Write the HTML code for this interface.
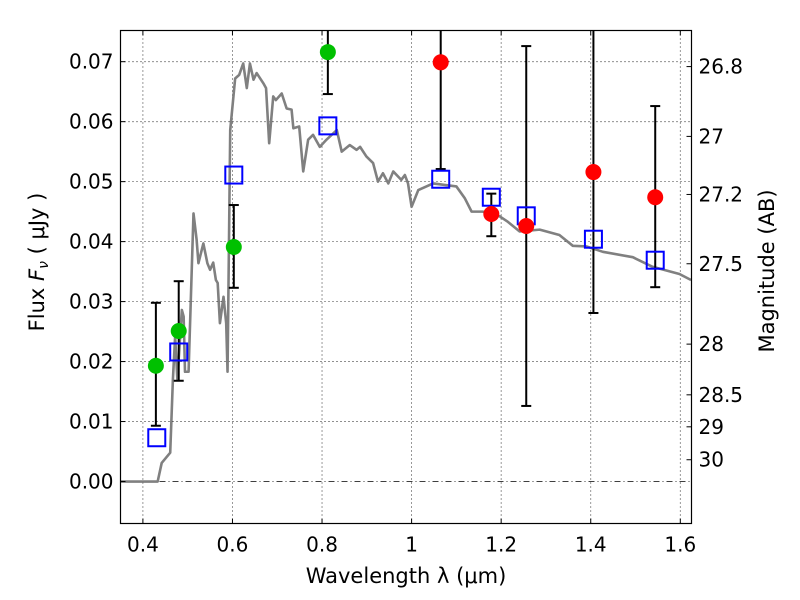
<!DOCTYPE html>
<html><head><meta charset="utf-8"><style>
body{margin:0;background:#fff}
svg{display:block;font-family:"DejaVu Sans","Liberation Sans",sans-serif}
</style></head><body>
<svg id="chart" width="800" height="600" viewBox="0 0 800 600" xmlns="http://www.w3.org/2000/svg">
<rect x="0" y="0" width="800" height="600" fill="#fff"/>
<g id="grid"></g>
<g id="spec"></g>
<g id="marks"></g>
<rect x="120.5" y="30.5" width="571" height="493" fill="none" stroke="#000" stroke-width="1.2"/>
<g id="axes" font-size="20"></g>
<text x="406" y="583" font-size="21" text-anchor="middle">Wavelength  λ (μm)</text>
<text transform="translate(44,262) rotate(-90)" font-size="21" text-anchor="middle">Flux  <tspan font-style="italic">F</tspan><tspan font-size="14" dy="4" font-style="italic">ν</tspan><tspan dy="-4">  ( μJy )</tspan></text>
<text transform="translate(774,271) rotate(-90)" font-size="21" text-anchor="middle">Magnitude (AB)</text>
</svg>
<script>
const xTicks=[0.4,0.6,0.8,1.0,1.2,1.4,1.6];
const xTickLabels=["0.4","0.6","0.8","1","1.2","1.4","1.6"];
const yTicks=[0,0.01,0.02,0.03,0.04,0.05,0.06,0.07];
const yTickLabels=["0.00","0.01","0.02","0.03","0.04","0.05","0.06","0.07"];
const magTicks=[26.8,27,27.2,27.5,28,28.5,29,30];
const magTickLabels=["26.8","27","27.2","27.5","28","28.5","29","30"];
const specWave=[0.35,0.433,0.442,0.461,0.467,0.472,0.477,0.487,0.491,0.494,0.502,0.513,0.520,0.524,0.535,0.544,0.550,0.557,0.563,0.567,0.572,0.580,0.586,0.589,0.595,0.606,0.615,0.624,0.632,0.639,0.647,0.654,0.669,0.675,0.682,0.691,0.697,0.710,0.721,0.732,0.736,0.749,0.758,0.769,0.780,0.795,0.810,0.833,0.844,0.862,0.877,0.885,0.899,0.914,0.925,0.936,0.948,0.959,0.977,0.985,0.992,1.000,1.015,1.048,1.100,1.119,1.134,1.159,1.197,1.215,1.241,1.286,1.330,1.360,1.390,1.427,1.494,1.538,1.598,1.624];
const specFlux=[0,0,0.0031,0.0048,0.0170,0.0242,0.0170,0.0286,0.0275,0.0183,0.0183,0.0447,0.0403,0.0364,0.0397,0.0364,0.0353,0.0365,0.0336,0.0331,0.0264,0.0308,0.0264,0.0183,0.0586,0.0672,0.0678,0.0697,0.0656,0.0697,0.0670,0.0681,0.0664,0.0656,0.0564,0.0642,0.0636,0.0647,0.0622,0.0620,0.0589,0.0592,0.0517,0.0570,0.0578,0.0558,0.0570,0.0586,0.0550,0.0561,0.0553,0.0558,0.0542,0.0531,0.0500,0.0514,0.0497,0.0517,0.0503,0.0511,0.0497,0.0458,0.0486,0.0497,0.0492,0.0472,0.0450,0.0450,0.0442,0.0433,0.0417,0.0420,0.0411,0.0393,0.0392,0.0383,0.0374,0.0358,0.0346,0.0336,0.0331];
const greenWave=[0.429,0.480,0.603,0.813];
const greenFlux=[0.0193,0.0251,0.0391,0.0716];
const greenLo=[0.0093,0.0168,0.0323,0.0646];
const greenHi=[0.0298,0.0334,0.0461,0.090];
const redWave=[1.065,1.178,1.256,1.406,1.544];
const redFlux=[0.0699,0.0446,0.0426,0.0516,0.0474];
const redLo=[0.0521,0.0409,0.0126,0.0281,0.0324];
const redHi=[0.090,0.0480,0.0726,0.090,0.0626];
const modelWave=[0.431,0.480,0.603,0.813,1.065,1.178,1.256,1.406,1.544];
const modelFlux=[0.0073,0.0216,0.0511,0.0593,0.0504,0.0474,0.0443,0.0404,0.0369];

const NS="http://www.w3.org/2000/svg";
const L=120.5,R=691.5,T=30.5,B=523.5;
const xmin=0.35,xmax=1.625,ymin=-0.007,ymax=0.0752;
function sx(v){return L+(v-xmin)/(xmax-xmin)*(R-L);}
function sy(v){return B-(v-ymin)/(ymax-ymin)*(B-T);}
function mk(tag,attrs,parent){const e=document.createElementNS(NS,tag);for(const k in attrs)e.setAttribute(k,attrs[k]);parent.appendChild(e);return e;}
const grid=document.getElementById('grid'),axes=document.getElementById('axes'),spec=document.getElementById('spec'),marks=document.getElementById('marks');
xTicks.forEach((t,i)=>{const x=sx(t);
 const g=mk('line',{x1:x,x2:x,y1:T,y2:B,stroke:'#000','stroke-width':0.8,'stroke-dasharray':'1,3'},grid);
 
 
 mk('line',{x1:x,x2:x,y1:B,y2:B-5,stroke:'#000'},axes);
 mk('line',{x1:x,x2:x,y1:T,y2:T+5,stroke:'#000'},axes);
 const tx=mk('text',{x:x,y:B+28,'text-anchor':'middle'},axes);tx.textContent=xTickLabels[i];
 
 });
yTicks.forEach((t,i)=>{const y=sy(t);
 const g=mk('line',{x1:L,x2:R,y1:y,y2:y,stroke:'#000','stroke-width':0.8,'stroke-dasharray':t===0?'6,3,1,3':'1,3'},grid);
 
 
 mk('line',{x1:L,x2:L+5,y1:y,y2:y,stroke:'#000'},axes);
 const tx=mk('text',{x:L-7,y:y+7,'text-anchor':'end'},axes);tx.textContent=yTickLabels[i];
 
 });
magTicks.forEach((m,i)=>{const y=sy(Math.pow(10,(23.9-m)/2.5));
 mk('line',{x1:R,x2:R-5,y1:y,y2:y,stroke:'#000'},axes);
 const tx=mk('text',{x:R+7,y:y+7},axes);tx.textContent=magTickLabels[i];
 
 });
const path=mk('polyline',{points:specWave.map((w,i)=>sx(w)+','+sy(specFlux[i])).join(' '),fill:'none',stroke:'#808080','stroke-width':2.6,'stroke-linejoin':'round'},spec);


function errs(wave,lo,hi){wave.forEach((w,i)=>{const x=sx(w),y1=Math.max(sy(hi[i]),T),y2=sy(lo[i]);
 const l=mk('line',{x1:x,x2:x,y1:y1,y2:y2,stroke:'#000','stroke-width':2},marks);
 
 
 [sy(lo[i]),sy(hi[i])].forEach(c=>{if(c>T)mk('line',{x1:x-5,x2:x+5,y1:c,y2:c,stroke:'#000','stroke-width':2},marks);});});}
errs(greenWave,greenLo,greenHi);errs(redWave,redLo,redHi);
modelWave.forEach((w,i)=>{const r=mk('rect',{x:sx(w)-8.5,y:sy(modelFlux[i])-8.5,width:17,height:17,fill:'none',stroke:'#0000ff','stroke-width':2},marks);
 
 });
greenWave.forEach((w,i)=>{const c=mk('circle',{cx:sx(w),cy:sy(greenFlux[i]),r:8,fill:'#00c000'},marks);
 
 });
redWave.forEach((w,i)=>{const c=mk('circle',{cx:sx(w),cy:sy(redFlux[i]),r:8,fill:'#ff0000'},marks);
 
 });
</script>
</body></html>
